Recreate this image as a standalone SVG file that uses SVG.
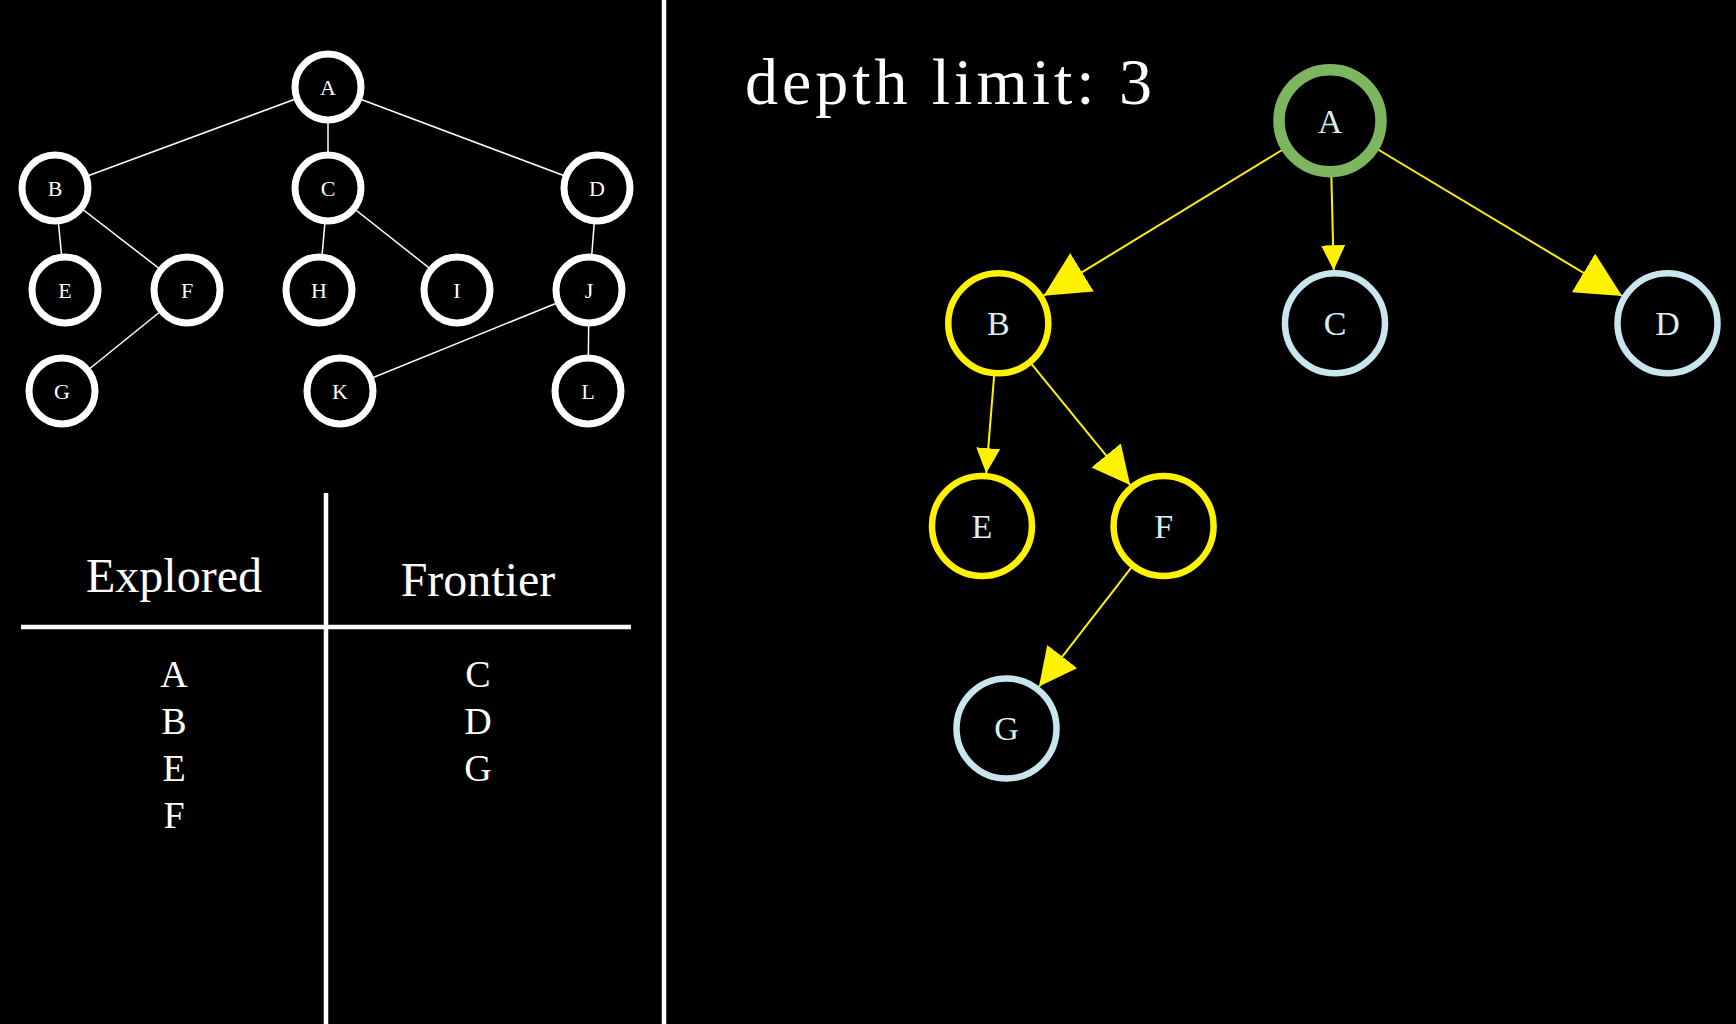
<svg xmlns="http://www.w3.org/2000/svg" width="1736" height="1024" viewBox="0 0 1736 1024">
<style>
.bg{fill:#000}
.tn{fill:#000;stroke:#fff;stroke-width:7}
.tl{font-family:"Liberation Serif","DejaVu Serif",serif;font-size:22px;fill:#fff;text-anchor:middle}
.te{stroke:#fff;stroke-width:1.5;fill:none}
.rule{stroke:#fff;stroke-width:4.5;fill:none}
.hd{font-family:"Liberation Serif","DejaVu Serif",serif;font-size:48px;fill:#fff;text-anchor:middle}
.it{font-family:"Liberation Serif","DejaVu Serif",serif;font-size:38px;fill:#fff;text-anchor:middle}
.ttl{font-family:"Liberation Serif","DejaVu Serif",serif;font-size:66px;fill:#fff}
.rn{fill:#000;stroke-width:6.5}
.start{stroke:#7DB65F;stroke-width:11.5}
.vis{stroke:#FFF200}
.fr{stroke:#C9E6EE}
.rl{font-family:"Liberation Serif","DejaVu Serif",serif;font-size:34px;fill:#D8EEF3;text-anchor:middle}
.ar{stroke:#FFF200;stroke-width:2;fill:none}
</style>
<defs>
<marker id="hL" markerUnits="userSpaceOnUse" markerWidth="45" markerHeight="45" refX="45" refY="22.5" orient="auto"><path d="M0,0 L45,22.5 L0,45 z" fill="#FFF200"/></marker>
<marker id="hM" markerUnits="userSpaceOnUse" markerWidth="38" markerHeight="38" refX="38" refY="19" orient="auto"><path d="M0,0 L38,19 L0,38 z" fill="#FFF200"/></marker>
<marker id="hS" markerUnits="userSpaceOnUse" markerWidth="25" markerHeight="24" refX="25" refY="12" orient="auto"><path d="M0,0 L25,12 L0,24 z" fill="#FFF200"/></marker>
</defs>
<rect class="bg" x="0" y="0" width="1736" height="1024"/>

<!-- dividers and table -->
<g id="layout">
<line class="rule" x1="664" y1="0" x2="664" y2="1024"/>
<line class="rule" x1="326" y1="493" x2="326" y2="1024"/>
<line class="rule" x1="21" y1="627" x2="631" y2="627"/>
<text class="hd" x="174" y="592">Explored</text>
<text class="hd" x="478" y="596">Frontier</text>
<text class="it" x="174" y="687">A</text>
<text class="it" x="174" y="734">B</text>
<text class="it" x="174" y="781">E</text>
<text class="it" x="174" y="828">F</text>
<text class="it" x="478" y="687">C</text>
<text class="it" x="478" y="734">D</text>
<text class="it" x="478" y="781">G</text>
<text class="ttl" x="745" y="104" textLength="407" lengthAdjust="spacing">depth limit: 3</text>
</g>

<!-- left tree connectors -->
<g id="tree-edges">
<line class="te" x1="328" y1="87" x2="55" y2="188"/>
<line class="te" x1="328" y1="87" x2="328" y2="188"/>
<line class="te" x1="328" y1="87" x2="597" y2="188"/>
<line class="te" x1="55" y1="188" x2="65" y2="290"/>
<line class="te" x1="55" y1="188" x2="187" y2="290"/>
<line class="te" x1="328" y1="188" x2="319" y2="290"/>
<line class="te" x1="328" y1="188" x2="457" y2="290"/>
<line class="te" x1="597" y1="188" x2="589" y2="290"/>
<line class="te" x1="187" y1="290" x2="62" y2="391"/>
<line class="te" x1="589" y1="290" x2="340" y2="391"/>
<line class="te" x1="589" y1="290" x2="588" y2="391"/>
</g>

<!-- left tree nodes -->
<g id="t-A"><circle class="tn" cx="328" cy="87" r="33"/><text class="tl" x="328" y="95">A</text></g>
<g id="t-B"><circle class="tn" cx="55" cy="188" r="33"/><text class="tl" x="55" y="196">B</text></g>
<g id="t-C"><circle class="tn" cx="328" cy="188" r="33"/><text class="tl" x="328" y="196">C</text></g>
<g id="t-D"><circle class="tn" cx="597" cy="188" r="33"/><text class="tl" x="597" y="196">D</text></g>
<g id="t-E"><circle class="tn" cx="65" cy="290" r="33"/><text class="tl" x="65" y="298">E</text></g>
<g id="t-F"><circle class="tn" cx="187" cy="290" r="33"/><text class="tl" x="187" y="298">F</text></g>
<g id="t-H"><circle class="tn" cx="319" cy="290" r="33"/><text class="tl" x="319" y="298">H</text></g>
<g id="t-I"><circle class="tn" cx="457" cy="290" r="33"/><text class="tl" x="457" y="298">I</text></g>
<g id="t-J"><circle class="tn" cx="589" cy="290" r="33"/><text class="tl" x="589" y="298">J</text></g>
<g id="t-G"><circle class="tn" cx="62" cy="391" r="33"/><text class="tl" x="62" y="399">G</text></g>
<g id="t-K"><circle class="tn" cx="340" cy="391" r="33"/><text class="tl" x="340" y="399">K</text></g>
<g id="t-L"><circle class="tn" cx="588" cy="391" r="33"/><text class="tl" x="588" y="399">L</text></g>

<!-- right tree connectors -->
<g id="search-edges">
<line class="ar" x1="1282" y1="150" x2="1043.6" y2="295.7" marker-end="url(#hL)"/>
<line class="ar" x1="1331.4" y1="177" x2="1333.7" y2="270.3" marker-end="url(#hS)"/>
<line class="ar" x1="1378" y1="149.5" x2="1622.1" y2="296" marker-end="url(#hL)"/>
<line class="ar" x1="994.1" y1="376.1" x2="986.2" y2="473.2" marker-end="url(#hS)"/>
<line class="ar" x1="1031.8" y1="364.4" x2="1130.1" y2="484.9" marker-end="url(#hM)"/>
<line class="ar" x1="1131.1" y1="567.8" x2="1039" y2="686.6" marker-end="url(#hM)"/>
</g>

<!-- right tree nodes -->
<g id="s-A"><circle class="rn start" cx="1330" cy="120.7" r="51"/><text class="rl" x="1330" y="132.5">A</text></g>
<g id="s-B"><circle class="rn vis" cx="998.3" cy="323.3" r="50"/><text class="rl" x="998.3" y="335">B</text></g>
<g id="s-C"><circle class="rn fr" cx="1335" cy="323.3" r="50"/><text class="rl" x="1335" y="335">C</text></g>
<g id="s-D"><circle class="rn fr" cx="1667.5" cy="323.3" r="50"/><text class="rl" x="1667.5" y="335">D</text></g>
<g id="s-E"><circle class="rn vis" cx="982" cy="526" r="50"/><text class="rl" x="982" y="537.7">E</text></g>
<g id="s-F"><circle class="rn vis" cx="1163.6" cy="526" r="50"/><text class="rl" x="1163.6" y="537.7">F</text></g>
<g id="s-G"><circle class="rn fr" cx="1006.5" cy="728.5" r="50"/><text class="rl" x="1006.5" y="740.2">G</text></g>
</svg>
